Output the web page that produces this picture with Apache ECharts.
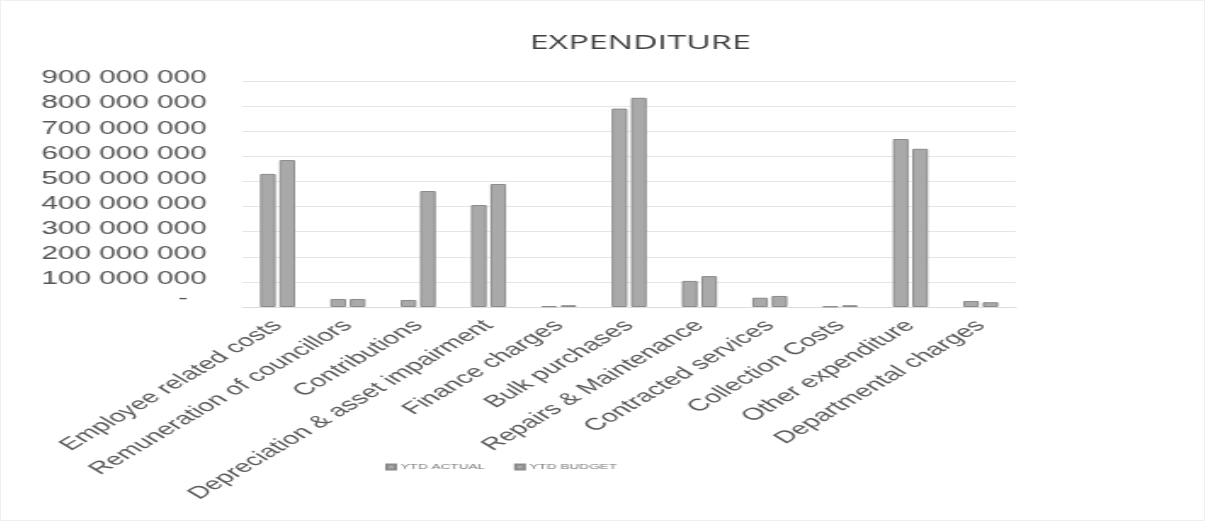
<!DOCTYPE html>
<html>
<head>
<meta charset="utf-8">
<title>Expenditure</title>
<script src="https://cdn.jsdelivr.net/npm/echarts@6/dist/echarts.min.js"></script>
<style>
  html, body { margin: 0; padding: 0; background: #ffffff; }
  #frame {
    position: relative; width: 1205px; height: 521px; overflow: hidden;
    box-sizing: border-box; border: 1px solid #efefef; background: #ffffff;
  }
  /* the chart is laid out on a narrower canvas and widened horizontally */
  #chart {
    position: absolute; left: 0; top: 0; width: 709px; height: 521px;
    transform: scaleX(1.7); transform-origin: 0 0;
  }
</style>
</head>
<body>
<div id="frame"><div id="chart"></div></div>
<script>
// Expense categories
const categories = [
  'Employee related costs',
  'Remuneration of councillors',
  'Contributions',
  'Depreciation & asset impairment',
  'Finance charges',
  'Bulk purchases',
  'Repairs & Maintenance',
  'Contracted services',
  'Collection Costs',
  'Other expenditure',
  'Departmental charges'
];

// Year-to-date figures (rand)
const ytdActual = [530000000, 32000000, 28000000, 406000000, 3000000, 790000000, 104000000, 37000000, 2000000, 669000000, 24000000];
const ytdBudget = [585000000, 32000000, 462000000, 490000000, 7000000, 833000000, 123000000, 44000000, 7000000, 630000000, 19000000];

const seriesNames = ['YTD ACTUAL', 'YTD BUDGET'];
const chartTitle = 'EXPENDITURE';

// Value axis range
const axisMin = 0;
const axisMax = 900000000;
const axisStep = 100000000;

function groupThousands(v) {
  return String(Math.round(v)).replace(/\B(?=(\d{3})+(?!\d))/g, ' ');
}

const chart = echarts.init(document.getElementById('chart'), null, { renderer: 'canvas' });

const barStyle = {
  color: '#a9a9a9',
  borderColor: '#8a8a8a',
  borderWidth: 1
};

chart.setOption({
  animation: false,
  backgroundColor: '#ffffff',
  title: {
    text: chartTitle,
    left: 371,
    textAlign: 'center',
    top: 27,
    textStyle: {
      fontFamily: '"Liberation Sans Narrow", "Open Sans", sans-serif',
      fontSize: 20,
      fontWeight: 'normal',
      color: '#404040'
    }
  },
  legend: {
    data: seriesNames,
    left: 221,
    top: 457,
    itemWidth: 5,
    itemHeight: 5,
    itemGap: 17,
    icon: 'rect',
    textStyle: {
      fontFamily: '"Liberation Sans", sans-serif',
      fontSize: 8,
      color: '#7a7a7a',
      padding: [0, 0, 0, -2]
    }
  },
  grid: {
    left: 142,
    right: 112,
    top: 80,
    bottom: 215,
    containLabel: false
  },
  xAxis: {
    type: 'category',
    data: categories,
    axisTick: { show: false },
    axisLine: { show: true, lineStyle: { color: '#dcdcdc', width: 1 } },
    axisLabel: {
      interval: 0,
      rotate: 45,
      margin: 16,
      fontFamily: '"Liberation Sans", sans-serif',
      fontSize: 17,
      color: '#5a5a5a'
    }
  },
  yAxis: {
    type: 'value',
    min: axisMin,
    max: axisMax,
    interval: axisStep,
    axisLine: { show: false },
    axisTick: { show: false },
    splitLine: { lineStyle: { color: '#e6e6e6', width: 1 } },
    axisLabel: {
      margin: 21,
      fontFamily: '"Liberation Sans", sans-serif',
      fontSize: 17.5,
      color: '#555555',
      padding: [0, 0, 5, 0],
      formatter: function (v) {
        return v === 0 ? '{z|-}' : groupThousands(v);
      },
      rich: {
        z: {
          fontFamily: '"Liberation Sans", sans-serif',
          fontSize: 17,
          color: '#555555',
          padding: [0, 11, 12, 0]
        }
      }
    }
  },
  series: [
    {
      name: seriesNames[0],
      type: 'bar',
      data: ytdActual,
      barWidth: 9.2,
      barGap: '24%',
      itemStyle: barStyle
    },
    {
      name: seriesNames[1],
      type: 'bar',
      data: ytdBudget,
      barWidth: 9.2,
      barGap: '24%',
      itemStyle: barStyle
    }
  ]
});
</script>
</body>
</html>
